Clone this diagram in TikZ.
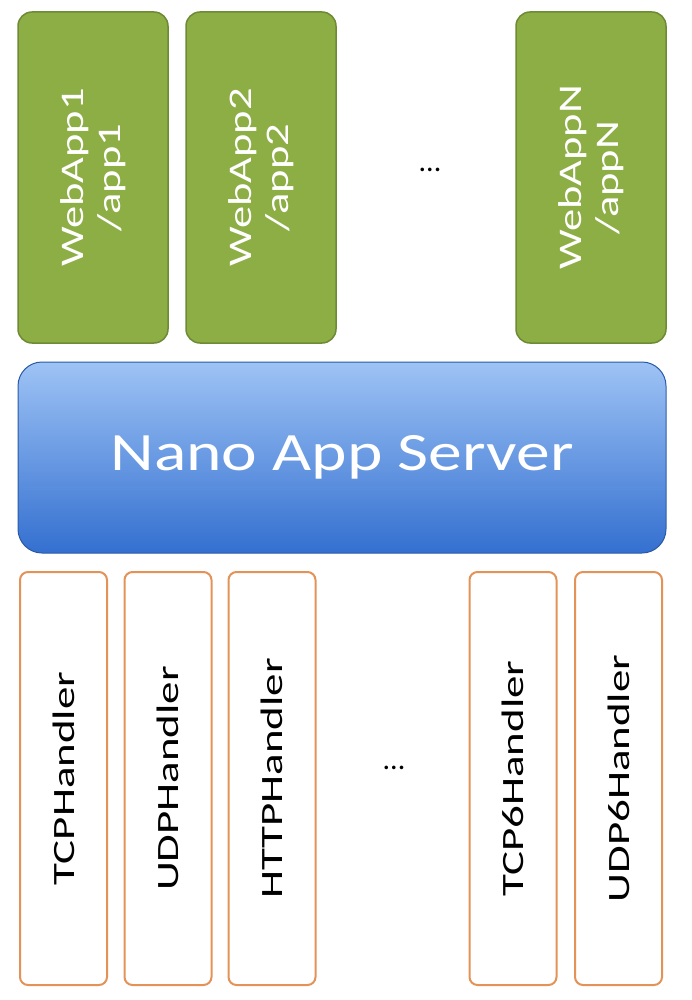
\documentclass[tikz,border=0pt]{standalone}
\usepackage{fontspec}
\setmainfont{Carlito}
\usetikzlibrary{positioning}
\definecolor{appgreen}{HTML}{8DAE45}
\definecolor{appedge}{HTML}{6E8A35}
\definecolor{srvtop}{HTML}{9EC3F5}
\definecolor{srvbot}{HTML}{3470D0}
\definecolor{hdledge}{HTML}{E39358}
\tikzset{
  webapp/.style={draw=appedge, line width=1.5pt, fill=appgreen, rounded corners=14pt,
    minimum width=150pt, minimum height=331pt, inner sep=0pt},
  apptext/.style={text=white, font=\fontsize{33}{37}\selectfont, yscale=1.35, rotate=90, align=center},
  handler/.style={draw=hdledge, line width=2pt, fill=white, rounded corners=8pt,
    minimum width=87pt, minimum height=413pt, inner sep=0pt},
  hdltext/.style={font=\fontsize{31}{34}\selectfont, yscale=1.45, rotate=90},
}
\begin{document}
\begin{tikzpicture}[x=1pt,y=-1pt]
  \useasboundingbox (0,0) rectangle (691,1000);
  % web applications
  \node[webapp] (app1) at (93,177.5) {};
  \node[webapp] (app2) at (261,177.5) {};
  \node[webapp] (appN) at (591,177.5) {};
  \node[apptext] at (app1) {WebApp1\\/app1};
  \node[apptext] at (app2) {WebApp2\\/app2};
  \node[apptext] at (appN) {WebAppN\\/appN};
  \node[font=\fontsize{30}{32}\selectfont] (dotsA) at (430,170) {...};
  % server
  \node[draw=srvbot!80!black, line width=1pt, top color=srvtop, bottom color=srvbot,
    rounded corners=24pt, minimum width=648pt, minimum height=191pt] (srv) at (342,457.5) {};
  \node[text=white, font=\fontsize{54}{58}\selectfont, xscale=1.25] at (srv) {Nano App Server};
  % handlers
  \foreach \name/\x/\txt in {tcp/63.5/TCPHandler, udp/168/UDPHandler, http/272/HTTPHandler,
      tcpsix/513/TCP6Handler, udpsix/618.5/UDP6Handler}{
    \node[handler] (\name) at (\x,778.5) {};
    \node[hdltext] at (\name) {\txt};
  }
  \node[font=\fontsize{30}{32}\selectfont] (dotsB) at (394,768) {...};
\end{tikzpicture}
\end{document}
